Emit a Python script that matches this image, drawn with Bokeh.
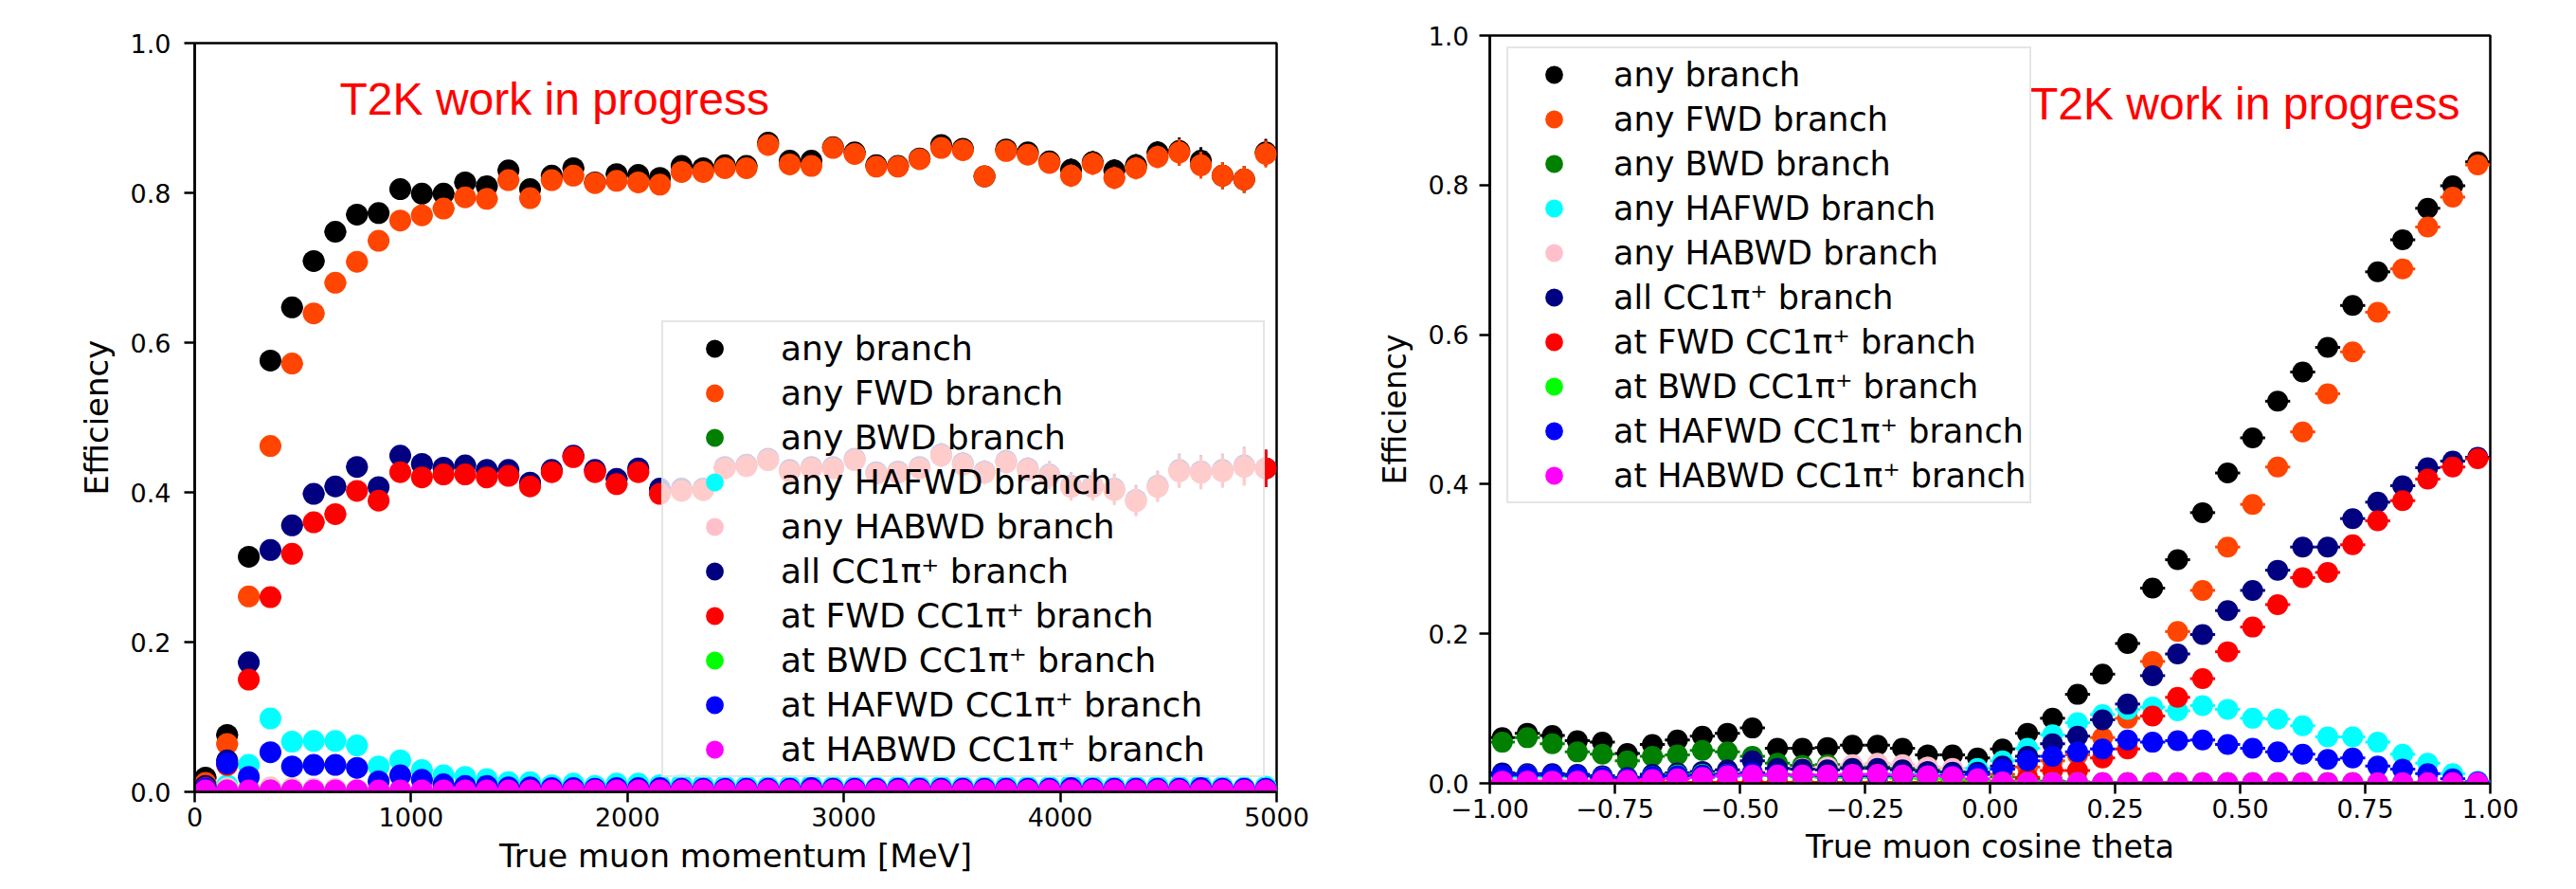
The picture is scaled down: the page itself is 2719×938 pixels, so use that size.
from bokeh.plotting import figure
from bokeh.layouts import row
from bokeh.models import (Range1d, Legend, LegendItem, Label, FixedTicker,
                          NumeralTickFormatter, CustomJSTickFormatter, ColumnDataSource)
from bokeh.embed import file_html
from bokeh.resources import INLINE

# ---------------- data: left panel (true muon momentum, MeV) ----------------
p_centers = [50, 150, 250, 350, 450, 550, 650, 750, 850, 950,
             1050, 1150, 1250, 1350, 1450, 1550, 1650, 1750, 1850, 1950,
             2050, 2150, 2250, 2350, 2450, 2550, 2650, 2750, 2850, 2950,
             3050, 3150, 3250, 3350, 3450, 3550, 3650, 3750, 3850, 3950,
             4050, 4150, 4250, 4350, 4450, 4550, 4650, 4750, 4850, 4950]
p_halfwidth = [50] * 50

any_p = [0.019, 0.076, 0.314, 0.576, 0.647, 0.709, 0.748, 0.771, 0.773, 0.805,
         0.799, 0.799, 0.814, 0.809, 0.830, 0.805, 0.823, 0.833, 0.814, 0.825,
         0.824, 0.820, 0.836, 0.833, 0.837, 0.836, 0.867, 0.843, 0.843, 0.861,
         0.854, 0.837, 0.836, 0.846, 0.864, 0.859, 0.822, 0.858, 0.854, 0.842,
         0.831, 0.841, 0.830, 0.837, 0.854, 0.856, 0.843, 0.823, 0.818, 0.854]
fwd_p = [0.012, 0.064, 0.261, 0.462, 0.572, 0.639, 0.680, 0.708, 0.736, 0.763,
         0.770, 0.779, 0.794, 0.792, 0.817, 0.793, 0.817, 0.823, 0.813, 0.816,
         0.814, 0.811, 0.828, 0.828, 0.833, 0.833, 0.864, 0.838, 0.836, 0.860,
         0.852, 0.835, 0.835, 0.845, 0.860, 0.857, 0.822, 0.856, 0.851, 0.840,
         0.823, 0.839, 0.820, 0.833, 0.848, 0.854, 0.837, 0.823, 0.818, 0.852]
bwd_p = [0.004, 0.004, 0.003, 0.003, 0.003, 0.002, 0.002, 0.002, 0.002, 0.002,
         0.002, 0.002, 0.002, 0.002, 0.002, 0.002, 0.002, 0.002, 0.002, 0.002,
         0.002, 0.002, 0.002, 0.002, 0.002, 0.002, 0.002, 0.002, 0.002, 0.002,
         0.002, 0.002, 0.002, 0.002, 0.002, 0.002, 0.002, 0.002, 0.002, 0.002,
         0.002, 0.002, 0.002, 0.002, 0.002, 0.002, 0.002, 0.002, 0.002, 0.002]
hafwd_p = [0.005, 0.009, 0.036, 0.098, 0.067, 0.068, 0.068, 0.062, 0.034, 0.042,
           0.029, 0.022, 0.020, 0.017, 0.013, 0.013, 0.009, 0.011, 0.008, 0.011,
           0.011, 0.009, 0.010, 0.009, 0.008, 0.008, 0.007, 0.008, 0.009, 0.007,
           0.007, 0.006, 0.007, 0.007, 0.008, 0.007, 0.007, 0.008, 0.007, 0.007,
           0.010, 0.008, 0.007, 0.007, 0.008, 0.007, 0.009, 0.007, 0.006, 0.007]
habwd_p = [0.004, 0.005, 0.005, 0.006, 0.005, 0.004, 0.004, 0.003, 0.003, 0.003,
           0.003, 0.003, 0.003, 0.003, 0.003, 0.003, 0.003, 0.003, 0.003, 0.003,
           0.003, 0.003, 0.003, 0.003, 0.003, 0.003, 0.003, 0.003, 0.003, 0.003,
           0.003, 0.003, 0.003, 0.003, 0.003, 0.003, 0.003, 0.003, 0.003, 0.003,
           0.003, 0.003, 0.003, 0.003, 0.003, 0.003, 0.003, 0.003, 0.003, 0.003]
cc_p = [0.008, 0.042, 0.173, 0.323, 0.356, 0.398, 0.408, 0.434, 0.407, 0.449,
        0.438, 0.433, 0.436, 0.430, 0.430, 0.413, 0.430, 0.449, 0.430, 0.418,
        0.432, 0.405, 0.405, 0.405, 0.434, 0.437, 0.445, 0.430, 0.434, 0.434,
        0.445, 0.427, 0.428, 0.434, 0.451, 0.439, 0.428, 0.442, 0.432, 0.424,
        0.409, 0.409, 0.405, 0.390, 0.409, 0.430, 0.428, 0.430, 0.436, 0.432]
ccfwd_p = [0.005, 0.036, 0.150, 0.260, 0.318, 0.360, 0.371, 0.402, 0.389, 0.427,
           0.420, 0.424, 0.424, 0.420, 0.422, 0.408, 0.427, 0.447, 0.427, 0.411,
           0.427, 0.398, 0.402, 0.403, 0.432, 0.435, 0.443, 0.428, 0.432, 0.432,
           0.443, 0.425, 0.426, 0.432, 0.449, 0.437, 0.426, 0.440, 0.430, 0.422,
           0.407, 0.407, 0.403, 0.388, 0.407, 0.428, 0.426, 0.428, 0.434, 0.432]
ccbwd_p = [0.002, 0.002, 0.002, 0.002, 0.002, 0.001, 0.001, 0.001, 0.001, 0.001,
           0.001, 0.001, 0.001, 0.001, 0.001, 0.001, 0.001, 0.001, 0.001, 0.001,
           0.001, 0.001, 0.001, 0.001, 0.001, 0.001, 0.001, 0.001, 0.001, 0.001,
           0.001, 0.001, 0.001, 0.001, 0.001, 0.001, 0.001, 0.001, 0.001, 0.001,
           0.001, 0.001, 0.001, 0.001, 0.001, 0.001, 0.001, 0.001, 0.001, 0.001]
cchafwd_p = [0.004, 0.038, 0.020, 0.053, 0.034, 0.036, 0.036, 0.032, 0.014, 0.022,
             0.016, 0.010, 0.008, 0.008, 0.006, 0.006, 0.005, 0.005, 0.004, 0.005,
             0.005, 0.005, 0.004, 0.004, 0.004, 0.004, 0.004, 0.004, 0.005, 0.004,
             0.004, 0.004, 0.004, 0.004, 0.004, 0.004, 0.004, 0.004, 0.004, 0.004,
             0.005, 0.004, 0.004, 0.004, 0.004, 0.004, 0.005, 0.004, 0.004, 0.004]
cchabwd_p = [0.002, 0.002, 0.002, 0.002, 0.002, 0.002, 0.002, 0.002, 0.002, 0.002,
             0.002, 0.002, 0.002, 0.002, 0.002, 0.002, 0.002, 0.002, 0.002, 0.002,
             0.002, 0.002, 0.002, 0.002, 0.002, 0.002, 0.002, 0.002, 0.002, 0.002,
             0.002, 0.002, 0.002, 0.002, 0.002, 0.002, 0.002, 0.002, 0.002, 0.002,
             0.002, 0.002, 0.002, 0.002, 0.002, 0.002, 0.002, 0.002, 0.002, 0.002]
err_any_p = [0.004, 0.004, 0.004, 0.004, 0.004, 0.004, 0.004, 0.004, 0.004, 0.004,
             0.006, 0.006, 0.006, 0.006, 0.006, 0.006, 0.006, 0.006, 0.006, 0.006,
             0.008, 0.008, 0.008, 0.008, 0.008, 0.008, 0.008, 0.008, 0.008, 0.008,
             0.010, 0.010, 0.010, 0.010, 0.010, 0.012, 0.012, 0.012, 0.012, 0.012,
             0.015, 0.015, 0.015, 0.015, 0.015, 0.018, 0.018, 0.018, 0.018, 0.018]
err_cc_p = [0.003, 0.005, 0.006, 0.006, 0.006, 0.006, 0.006, 0.006, 0.006, 0.006,
            0.008, 0.008, 0.008, 0.008, 0.008, 0.008, 0.008, 0.008, 0.008, 0.008,
            0.010, 0.010, 0.010, 0.010, 0.010, 0.010, 0.010, 0.010, 0.012, 0.012,
            0.012, 0.012, 0.012, 0.012, 0.015, 0.015, 0.015, 0.015, 0.015, 0.018,
            0.018, 0.018, 0.020, 0.020, 0.020, 0.022, 0.022, 0.022, 0.025, 0.025]
err_small_p = [0.002] * 50

# ---------------- data: right panel (true muon cos theta) ----------------
c_centers = [-0.975, -0.925, -0.875, -0.825, -0.775, -0.725, -0.675, -0.625, -0.575, -0.525,
             -0.475, -0.425, -0.375, -0.325, -0.275, -0.225, -0.175, -0.125, -0.075, -0.025,
             0.025, 0.075, 0.125, 0.175, 0.225, 0.275, 0.325, 0.375, 0.425, 0.475,
             0.525, 0.575, 0.625, 0.675, 0.725, 0.775, 0.825, 0.875, 0.925, 0.975]
c_halfwidth = [0.025] * 40

any_c = [0.061, 0.067, 0.064, 0.057, 0.055, 0.040, 0.052, 0.058, 0.063, 0.067,
         0.074, 0.047, 0.047, 0.048, 0.051, 0.051, 0.047, 0.038, 0.038, 0.034,
         0.046, 0.067, 0.087, 0.119, 0.146, 0.187, 0.261, 0.299, 0.362, 0.415,
         0.462, 0.511, 0.550, 0.583, 0.639, 0.684, 0.727, 0.769, 0.799, 0.831]
fwd_c = [0.001, 0.001, 0.001, 0.001, 0.001, 0.001, 0.001, 0.001, 0.001, 0.001,
         0.001, 0.001, 0.001, 0.001, 0.001, 0.001, 0.001, 0.001, 0.001, 0.002,
         0.012, 0.022, 0.030, 0.038, 0.061, 0.087, 0.163, 0.203, 0.258, 0.316,
         0.373, 0.423, 0.470, 0.521, 0.577, 0.630, 0.688, 0.744, 0.784, 0.827]
bwd_c = [0.055, 0.061, 0.053, 0.042, 0.039, 0.030, 0.036, 0.038, 0.044, 0.042,
         0.036, 0.027, 0.024, 0.025, 0.023, 0.022, 0.020, 0.018, 0.015, 0.012,
         0.008, 0.005, 0.003, 0.002, 0.001, 0.001, 0.001, 0.001, 0.001, 0.001,
         0.001, 0.001, 0.001, 0.001, 0.001, 0.001, 0.001, 0.001, 0.001, 0.001]
hafwd_c = [0.008, 0.008, 0.008, 0.007, 0.007, 0.006, 0.007, 0.008, 0.008, 0.009,
           0.010, 0.010, 0.010, 0.010, 0.011, 0.012, 0.013, 0.014, 0.016, 0.020,
           0.030, 0.047, 0.065, 0.081, 0.092, 0.099, 0.102, 0.097, 0.104, 0.099,
           0.087, 0.086, 0.077, 0.062, 0.062, 0.055, 0.039, 0.027, 0.013, 0.003]
habwd_c = [0.004, 0.005, 0.005, 0.005, 0.006, 0.006, 0.008, 0.010, 0.012, 0.014,
           0.016, 0.018, 0.020, 0.022, 0.025, 0.027, 0.025, 0.022, 0.020, 0.012,
           0.005, 0.002, 0.001, 0.001, 0.001, 0.001, 0.001, 0.001, 0.001, 0.001,
           0.001, 0.001, 0.001, 0.001, 0.001, 0.001, 0.001, 0.001, 0.001, 0.001]
cc_c = [0.014, 0.013, 0.013, 0.012, 0.010, 0.008, 0.012, 0.014, 0.016, 0.018,
        0.030, 0.020, 0.019, 0.018, 0.020, 0.020, 0.018, 0.016, 0.015, 0.015,
        0.023, 0.036, 0.053, 0.063, 0.085, 0.106, 0.144, 0.173, 0.199, 0.231,
        0.258, 0.285, 0.316, 0.316, 0.354, 0.376, 0.398, 0.422, 0.431, 0.436]
ccfwd_c = [0.001, 0.001, 0.001, 0.001, 0.001, 0.001, 0.001, 0.001, 0.001, 0.001,
           0.001, 0.001, 0.001, 0.001, 0.001, 0.001, 0.001, 0.001, 0.001, 0.001,
           0.003, 0.008, 0.017, 0.017, 0.034, 0.046, 0.090, 0.115, 0.140, 0.176,
           0.209, 0.239, 0.275, 0.282, 0.319, 0.351, 0.378, 0.407, 0.423, 0.434]
ccbwd_c = [0.010, 0.011, 0.010, 0.009, 0.008, 0.006, 0.009, 0.011, 0.012, 0.012,
           0.013, 0.010, 0.009, 0.008, 0.008, 0.008, 0.007, 0.006, 0.005, 0.004,
           0.002, 0.001, 0.001, 0.001, 0.001, 0.001, 0.001, 0.001, 0.001, 0.001,
           0.001, 0.001, 0.001, 0.001, 0.001, 0.001, 0.001, 0.001, 0.001, 0.001]
cchafwd_c = [0.011, 0.011, 0.011, 0.010, 0.008, 0.006, 0.009, 0.010, 0.011, 0.012,
             0.014, 0.012, 0.011, 0.010, 0.010, 0.010, 0.010, 0.010, 0.010, 0.012,
             0.019, 0.030, 0.036, 0.042, 0.046, 0.058, 0.055, 0.057, 0.058, 0.052,
             0.047, 0.042, 0.039, 0.032, 0.034, 0.023, 0.019, 0.013, 0.006, 0.002]
cchabwd_c = [0.003, 0.003, 0.003, 0.003, 0.004, 0.004, 0.005, 0.006, 0.008, 0.010,
             0.011, 0.011, 0.011, 0.011, 0.012, 0.012, 0.011, 0.010, 0.009, 0.006,
             0.002, 0.001, 0.001, 0.001, 0.001, 0.001, 0.001, 0.001, 0.001, 0.001,
             0.001, 0.001, 0.001, 0.001, 0.001, 0.001, 0.001, 0.001, 0.001, 0.001]
err_c = [0.005, 0.005, 0.005, 0.005, 0.005, 0.005, 0.005, 0.005, 0.005, 0.005,
         0.005, 0.004, 0.004, 0.004, 0.004, 0.004, 0.004, 0.004, 0.004, 0.004,
         0.004, 0.005, 0.005, 0.006, 0.006, 0.006, 0.007, 0.007, 0.007, 0.008,
         0.008, 0.008, 0.008, 0.008, 0.008, 0.008, 0.008, 0.008, 0.008, 0.008]

labels = ["any branch", "any FWD branch", "any BWD branch", "any HAFWD branch",
          "any HABWD branch", "all CC1π⁺ branch", "at FWD CC1π⁺ branch",
          "at BWD CC1π⁺ branch", "at HAFWD CC1π⁺ branch", "at HABWD CC1π⁺ branch"]
colors = ["#000000", "#FF4500", "#008000", "#00FFFF", "#FFC0CB",
          "#000080", "#FF0000", "#00FF00", "#0000FF", "#FF00FF"]

yticks = [0.0, 0.2, 0.4, 0.6, 0.8, 1.0]
xticks_p = [0, 1000, 2000, 3000, 4000, 5000]
xticks_c = [-1.0, -0.75, -0.5, -0.25, 0.0, 0.25, 0.5, 0.75, 1.0]

FONT = "DejaVu Sans"


def style(p, tick_font, label_font, ystand):
    p.outline_line_color = "black"
    p.outline_line_width = 2.5
    p.xgrid.visible = False
    p.ygrid.visible = False
    for ax in (p.xaxis[0], p.yaxis[0]):
        ax.axis_line_width = 2.5
        ax.major_tick_line_width = 2.5
        ax.major_tick_out = 11
        ax.major_tick_in = 0
        ax.minor_tick_out = 0
        ax.minor_tick_in = 0
        ax.major_label_text_font = FONT
        ax.major_label_text_font_size = tick_font
        ax.major_label_text_color = "black"
        ax.axis_label_text_font = FONT
        ax.axis_label_text_font_size = label_font
        ax.axis_label_text_font_style = "normal"
        ax.axis_label_text_color = "black"
    p.xaxis.major_label_standoff = 5
    p.yaxis.major_label_standoff = ystand
    p.xaxis.axis_label_standoff = 8
    p.yaxis.axis_label_standoff = 13
    p.yaxis.ticker = FixedTicker(ticks=yticks, minor_ticks=[])
    p.yaxis.formatter = NumeralTickFormatter(format="0.0")


def draw_series(p, xs, hw, series, errs, size):
    items = []
    for lab, col, ys, es in zip(labels, colors, series, errs):
        src = ColumnDataSource(dict(
            x=xs, y=ys,
            xl=[a - b for a, b in zip(xs, hw)], xr=[a + b for a, b in zip(xs, hw)],
            yl=[a - b for a, b in zip(ys, es)], yh=[a + b for a, b in zip(ys, es)]))
        p.segment(x0="xl", y0="y", x1="xr", y1="y", source=src, line_color=col, line_width=3)
        p.segment(x0="x", y0="yl", x1="x", y1="yh", source=src, line_color=col, line_width=3)
        r = p.scatter(x="x", y="y", source=src, size=size, marker="circle",
                      fill_color=col, line_color=col, line_width=0)
        items.append(LegendItem(label=lab, renderers=[r]))
    return items


# ---------------- left panel ----------------
p1 = figure(output_backend="svg", toolbar_location=None,
            frame_width=1142, frame_height=790,
            min_border_left=205, min_border_right=93, min_border_top=45, min_border_bottom=95,
            x_range=Range1d(0, 5000), y_range=Range1d(0, 1),
            x_axis_label="True muon momentum [MeV]", y_axis_label="Efficiency",
            background_fill_color="white", border_fill_color="white")
style(p1, "27px", "34px", 14)
p1.xaxis.ticker = FixedTicker(ticks=xticks_p, minor_ticks=[])

series_p = [any_p, fwd_p, bwd_p, hafwd_p, habwd_p, cc_p, ccfwd_p, ccbwd_p, cchafwd_p, cchabwd_p]
errs_p = [err_any_p, err_any_p, err_small_p, err_small_p, err_small_p,
          err_cc_p, err_cc_p, err_small_p, err_small_p, err_small_p]
items1 = draw_series(p1, p_centers, p_halfwidth, series_p, errs_p, 23)

leg1 = Legend(items=items1, location=(493, 15), glyph_width=100, glyph_height=47,
              label_height=47, spacing=0, padding=4, label_standoff=20, label_width=505,
              label_text_font=FONT, label_text_font_size="36px", label_text_color="black",
              border_line_color="#cccccc", border_line_width=2,
              background_fill_color="white", background_fill_alpha=0.8, margin=0)
p1.add_layout(leg1, "center")
p1.add_layout(Label(x=670, y=0.9247, text="T2K work in progress", text_color="red",
                    text_font="Liberation Sans", text_font_size="48px",
                    text_baseline="middle", level="overlay"))

# ---------------- right panel ----------------
p2 = figure(output_backend="svg", toolbar_location=None,
            frame_width=1056, frame_height=789,
            min_border_left=132, min_border_right=60, min_border_top=45, min_border_bottom=96,
            x_range=Range1d(-1, 1), y_range=Range1d(0, 1),
            x_axis_label="True muon cosine theta", y_axis_label="Efficiency",
            background_fill_color="white", border_fill_color="white")
p2.styles = {"position": "relative", "top": "-8px"}
style(p2, "27px", "33px", 11)
p2.xaxis.ticker = FixedTicker(ticks=xticks_c, minor_ticks=[])
p2.xaxis.formatter = CustomJSTickFormatter(
    code="return (tick < 0 ? '\u2212' : '') + Math.abs(tick).toFixed(2);")

series_c = [any_c, fwd_c, bwd_c, hafwd_c, habwd_c, cc_c, ccfwd_c, ccbwd_c, cchafwd_c, cchabwd_c]
errs_c = [err_c] * 10
items2 = draw_series(p2, c_centers, c_halfwidth, series_c, errs_c, 22)

leg2 = Legend(items=items2, location=(18, 295), glyph_width=88, glyph_height=47,
              label_height=47, spacing=0, padding=4, label_standoff=19, label_width=425,
              label_text_font=FONT, label_text_font_size="35px", label_text_color="black",
              border_line_color="#cccccc", border_line_width=2,
              background_fill_color="white", background_fill_alpha=0.8, margin=0)
p2.add_layout(leg2, "center")
p2.add_layout(Label(x=0.0805, y=0.909, text="T2K work in progress", text_color="red",
                    text_font="Liberation Sans", text_font_size="48px",
                    text_baseline="middle", level="overlay"))

layout = row(p1, p2)
open("out.html", "w").write(file_html(layout, INLINE))
